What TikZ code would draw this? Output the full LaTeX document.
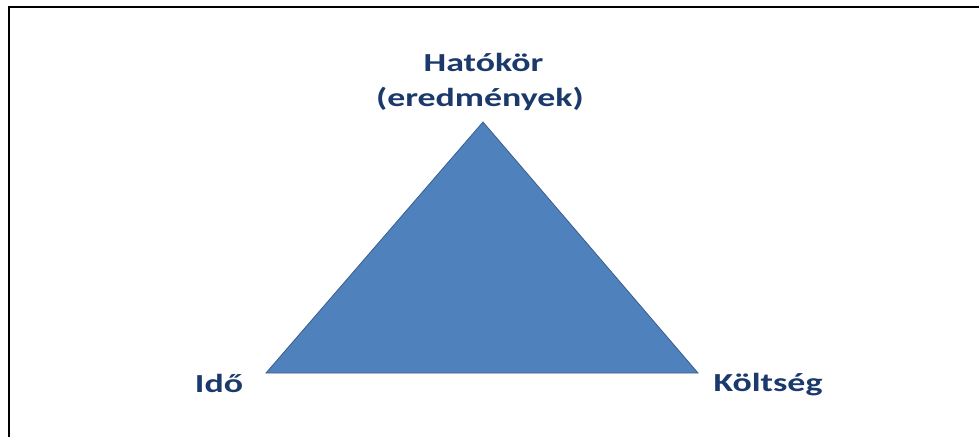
\documentclass[tikz,border=0pt]{standalone}
\usepackage{fontspec}
\setmainfont{Carlito}[FakeStretch=1.38]
\definecolor{txtblue}{HTML}{1B3A6B}
\definecolor{trifill}{HTML}{4F81BD}
\definecolor{triedge}{HTML}{3A5F8F}
\tikzset{
  lbl/.style={font=\bfseries\fontsize{26}{32}\selectfont, text=txtblue, inner sep=0pt, anchor=base},
  frame/.style={line width=2.5pt, black},
  tri/.style={fill=trifill, draw=triedge, line width=0.8pt, line join=miter}
}
\begin{document}
\begin{tikzpicture}[x=1pt,y=1pt]
\useasboundingbox (0,0) rectangle (979,437);
\coordinate (fb) at (9,0);
\coordinate (fc) at (9,430);
\coordinate (fr) at (979,430);
\draw[frame] (fb) -- (fc) -- (fr);
\coordinate (top) at (483,315);
\coordinate (left) at (266,64);
\coordinate (right) at (698,64);
\draw[tri] (top) -- (left) -- (right) -- cycle;
\node[lbl] (hat) at (483.5,365) {Hatókör};
\node[lbl] (ered) at (480,330) {(eredmények)};
\node[lbl] (ido) at (219,45) {Idő};
\node[lbl] (kolt) at (768,46) {Költség};
\end{tikzpicture}
\end{document}
